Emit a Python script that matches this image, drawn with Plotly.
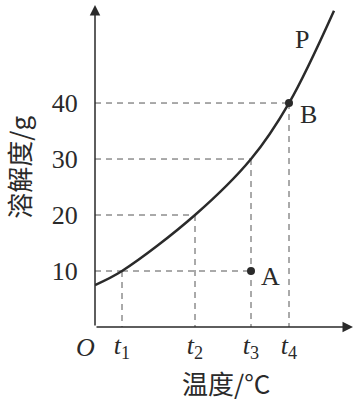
import plotly.graph_objects as go

# Temperature positions (arbitrary units) of t1..t4 and solubility values
t_vals = [2.7, 10.0, 15.6, 19.4]
t_labels = ["<i>t</i><sub>1</sub>", "<i>t</i><sub>2</sub>", "<i>t</i><sub>3</sub>", "<i>t</i><sub>4</sub>"]
sol_vals = [10, 20, 30, 40]
y_ticks = [10, 20, 30, 40]
y_ticklabels = ["10", "20", "30", "40"]

# Solubility curve
curve_x = [0.0, 2.7, 10.0, 15.6, 19.4, 23.9]
curve_y = [7.5, 10.0, 20.0, 30.0, 40.0, 56.5]

# Points
point_A = (15.6, 10)
point_B = (19.4, 40)

X_MAX = 26.5
Y_MAX = 58.4
X_ARROW = 25.8
Y_ARROW = 57.5

SERIF = "Liberation Serif, Times New Roman, serif"
CJK = "Noto Sans CJK SC, Liberation Serif, serif"
INK = "#2a2a2a"
DASH = "#555555"

fig = go.Figure()

# Dashed guide lines
for t, s in zip(t_vals, sol_vals):
    fig.add_trace(go.Scatter(x=[0, t], y=[s, s], mode="lines",
                             line=dict(color=DASH, width=1, dash="6px,5px"),
                             hoverinfo="skip", showlegend=False))
    fig.add_trace(go.Scatter(x=[t, t], y=[s, 0], mode="lines",
                             line=dict(color=DASH, width=1, dash="6px,5px"),
                             hoverinfo="skip", showlegend=False))
# horizontal 10 extended to A
fig.add_trace(go.Scatter(x=[t_vals[0], point_A[0]], y=[point_A[1], point_A[1]], mode="lines",
                         line=dict(color=DASH, width=1, dash="6px,5px"),
                         hoverinfo="skip", showlegend=False))

# Curve
fig.add_trace(go.Scatter(x=curve_x, y=curve_y, mode="lines",
                         line=dict(color=INK, width=2.5, shape="spline", smoothing=1.0),
                         showlegend=False))

# Points A, B
fig.add_trace(go.Scatter(x=[point_A[0], point_B[0]], y=[point_A[1], point_B[1]], mode="markers",
                         marker=dict(color=INK, size=8), showlegend=False))

# Axes with arrows
fig.add_annotation(x=X_ARROW, y=0, ax=0, ay=0, xref="x", yref="y", axref="x", ayref="y",
                   text="", showarrow=True, arrowhead=2, arrowsize=1.4, arrowwidth=1.5,
                   arrowcolor=INK)
fig.add_annotation(x=0, y=Y_ARROW, ax=0, ay=0, xref="x", yref="y", axref="x", ayref="y",
                   text="", showarrow=True, arrowhead=2, arrowsize=1.4, arrowwidth=1.5,
                   arrowcolor=INK)

# Text labels
fig.add_annotation(x=-0.0377, y=-0.064, xref="paper", yref="paper", text="<i>O</i>",
                   xanchor="center", yanchor="middle",
                   showarrow=False, font=dict(family=SERIF, size=26, color=INK))
fig.add_annotation(x=point_A[0] + 1.9, y=point_A[1] - 1.0, xref="x", yref="y", text="A",
                   showarrow=False, font=dict(family=SERIF, size=26, color=INK))
fig.add_annotation(x=point_B[0] + 1.9, y=point_B[1] - 2.1, xref="x", yref="y", text="B",
                   showarrow=False, font=dict(family=SERIF, size=26, color=INK))
fig.add_annotation(x=20.7, y=51.3, xref="x", yref="y", text="P",
                   showarrow=False, font=dict(family=SERIF, size=26, color=INK))

# Axis titles
fig.add_annotation(x=-0.287, y=0.49, xref="paper", yref="paper", text="溶解度/g", textangle=-90,
                   xanchor="center", yanchor="middle",
                   showarrow=False, font=dict(family=CJK, size=26, color=INK))
fig.add_annotation(x=0.494, y=-0.171, xref="paper", yref="paper", text="温度/°C",
                   xanchor="center", yanchor="middle",
                   showarrow=False, font=dict(family=CJK, size=26, color=INK))

fig.update_xaxes(range=[0, X_MAX], tickvals=t_vals, ticktext=t_labels,
                 showgrid=False, zeroline=False, showline=False,
                 ticks="", ticklen=0,
                 tickfont=dict(family=SERIF, size=26, color=INK))
fig.update_yaxes(range=[0, Y_MAX], tickvals=y_ticks, ticktext=y_ticklabels,
                 showgrid=False, zeroline=False, showline=False,
                 ticks="outside", ticklen=11, tickcolor="rgba(0,0,0,0)",
                 tickfont=dict(family=SERIF, size=26, color=INK))

fig.update_layout(width=360, height=400, margin=dict(l=95, r=0, t=0, b=73, autoexpand=False),
                  plot_bgcolor="white", paper_bgcolor="white", showlegend=False)

fig.write_html("out.html", config={"displayModeBar": False},
               post_script="document.body.style.margin='0';")
